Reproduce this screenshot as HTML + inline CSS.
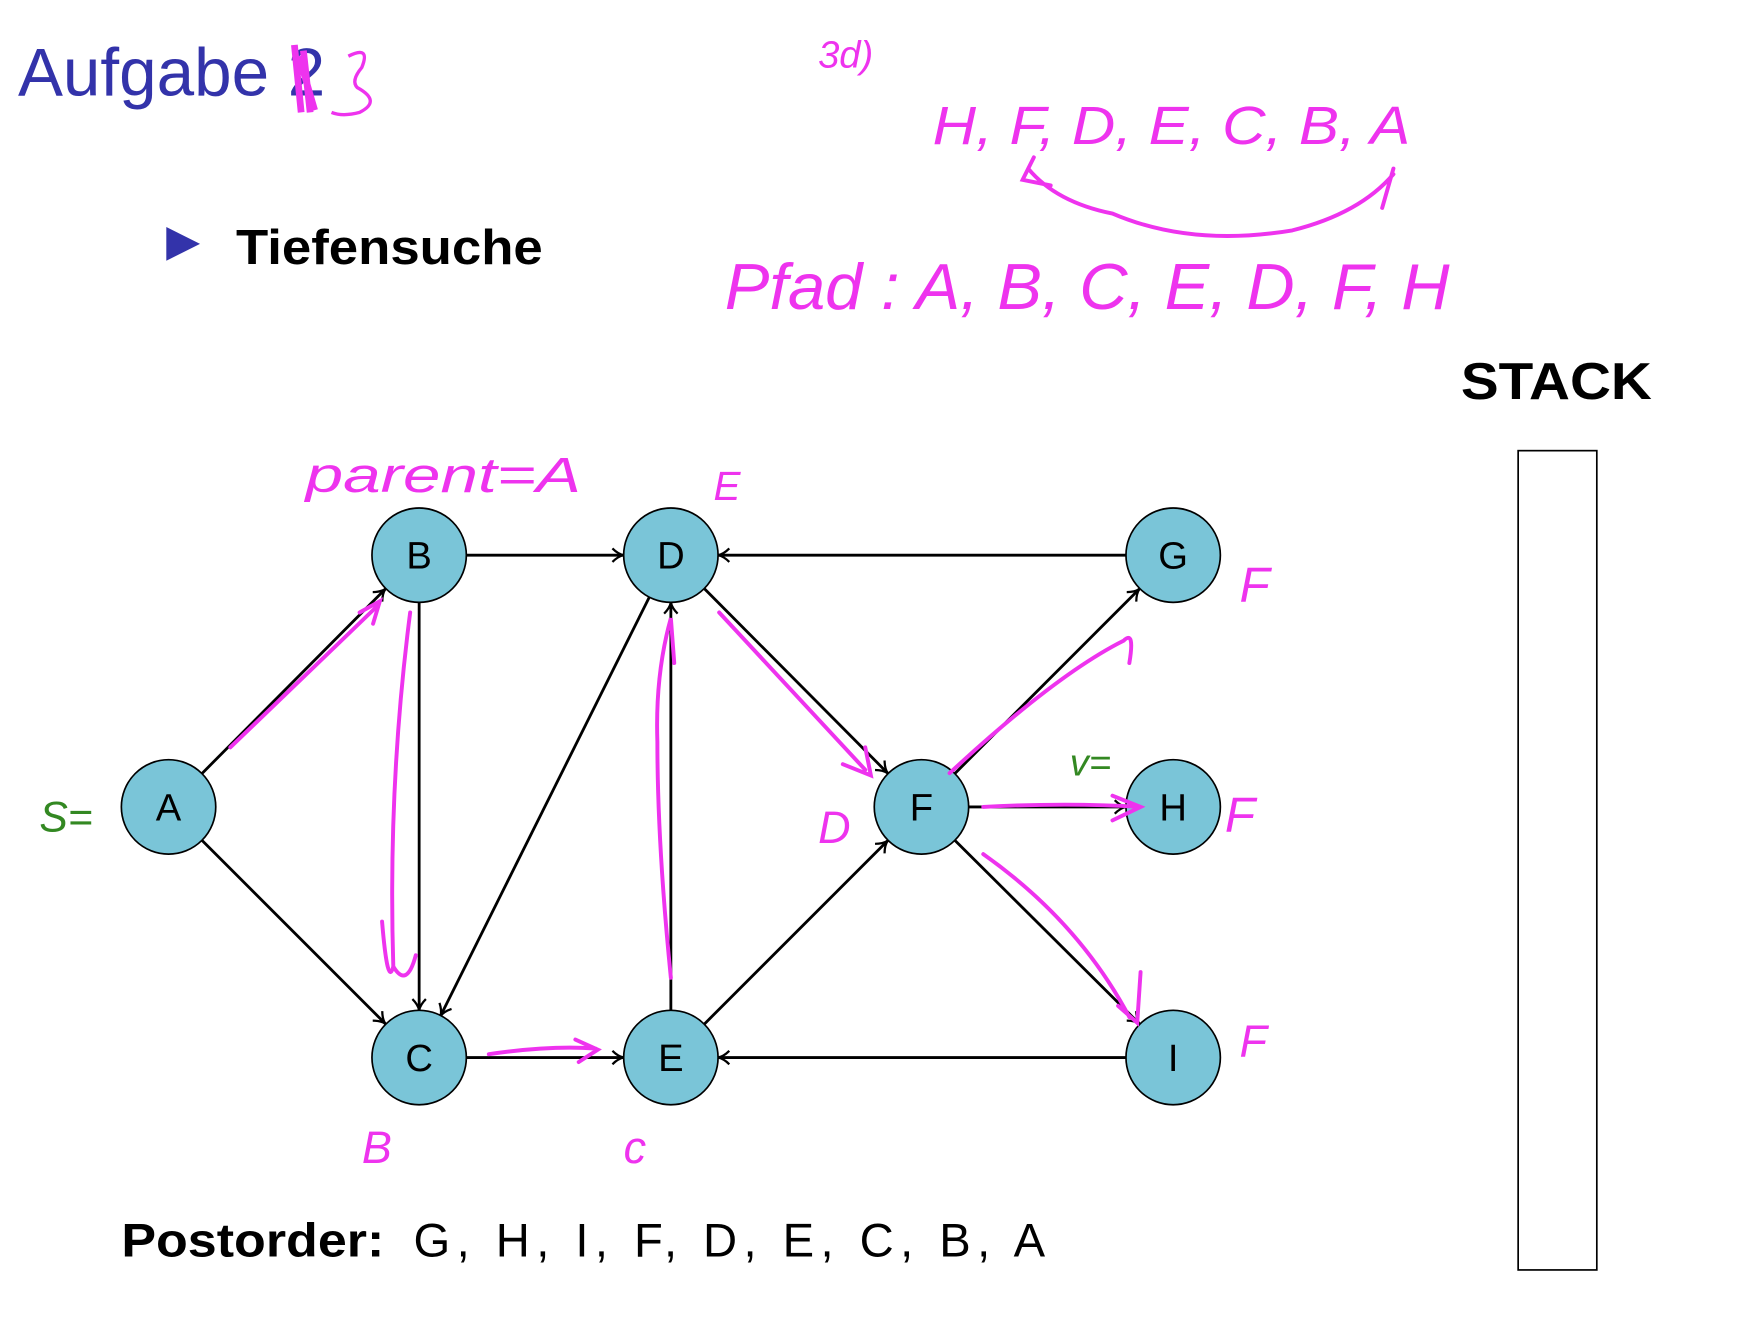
<!DOCTYPE html>
<html><head><meta charset="utf-8"><style>
html,body{margin:0;padding:0;background:#fff;}
svg{display:block;}
</style></head><body>
<svg width="1762" height="1334" viewBox="0 0 1568 1187" preserveAspectRatio="none" xmlns="http://www.w3.org/2000/svg">
<defs>
<marker id="ar" markerWidth="14" markerHeight="14" refX="12" refY="7" orient="auto" markerUnits="userSpaceOnUse">
<path d="M2,1 Q7,6 12,7 Q7,8 2,13" fill="none" stroke="#000" stroke-width="2"/>
</marker>
</defs>
<text x="16" y="85" font-family="Liberation Sans, sans-serif" font-size="60" fill="#3333aa">Aufgabe 2</text>
<path d="M262,40 L268,100 M270,45 L276,100 M266,50 L280,98" stroke="#ee33ee" stroke-width="6" fill="none"/>
<path d="M310,50 Q330,40 322,60 Q312,72 318,78 Q340,90 320,100 Q305,104 295,100" stroke="#ee33ee" stroke-width="3" fill="none"/>
<polygon points="148,202 148,232 178,217" fill="#3333aa"/>
<text x="210" y="235" font-family="Liberation Sans, sans-serif" font-size="44" font-weight="bold" textLength="273" lengthAdjust="spacingAndGlyphs">Tiefensuche</text>
<text x="1300" y="355" font-family="Liberation Sans, sans-serif" font-size="46" font-weight="bold" textLength="170" lengthAdjust="spacingAndGlyphs">STACK</text>
<rect x="1351" y="401" width="70" height="729" fill="none" stroke="#000" stroke-width="1.5"/>

<g stroke="#000" stroke-width="2.5" fill="none" marker-end="url(#ar)">
<line x1="180" y1="688" x2="343" y2="524"/>
<line x1="180" y1="748" x2="343" y2="911"/>
<line x1="415" y1="494" x2="555" y2="494"/>
<line x1="373" y1="536" x2="373" y2="899"/>
<line x1="578" y1="531" x2="392" y2="904"/>
<line x1="597" y1="899" x2="597" y2="536"/>
<line x1="1002" y1="494" x2="639" y2="494"/>
<line x1="627" y1="524" x2="790" y2="688"/>
<line x1="415" y1="941" x2="555" y2="941"/>
<line x1="627" y1="911" x2="790" y2="748"/>
<line x1="1002" y1="941" x2="639" y2="941"/>
<line x1="850" y1="688" x2="1014" y2="524"/>
<line x1="862" y1="718" x2="1002" y2="718"/>
<line x1="850" y1="748" x2="1014" y2="911"/>
</g>
<g fill="#7ac5d8" stroke="#000" stroke-width="1.5">
<circle cx="150" cy="718" r="42"/><circle cx="373" cy="494" r="42"/><circle cx="373" cy="941" r="42"/>
<circle cx="597" cy="494" r="42"/><circle cx="597" cy="941" r="42"/><circle cx="820" cy="718" r="42"/>
<circle cx="1044" cy="494" r="42"/><circle cx="1044" cy="718" r="42"/><circle cx="1044" cy="941" r="42"/>
</g>
<g font-family="Liberation Sans, sans-serif" font-size="34" text-anchor="middle" fill="#000">
<text x="150" y="730">A</text><text x="373" y="506">B</text><text x="373" y="953">C</text>
<text x="597" y="506">D</text><text x="597" y="953">E</text><text x="820" y="730">F</text>
<text x="1044" y="506">G</text><text x="1044" y="730">H</text><text x="1044" y="953">I</text>
</g>

<text x="108" y="1118" font-family="Liberation Sans, sans-serif" font-size="42" font-weight="bold" textLength="234" lengthAdjust="spacingAndGlyphs">Postorder:</text>
<text x="368" y="1118" font-family="Liberation Sans, sans-serif" font-size="42" textLength="562" lengthAdjust="spacing">G, H, I, F, D, E, C, B, A</text>

<g stroke="#ee33ee" stroke-width="3.5" fill="none" stroke-linecap="round">
<path d="M205,665 L335,540 M320,545 L338,535 L332,555"/>
<path d="M365,545 Q345,700 350,860 Q345,880 340,820 M350,860 Q362,880 370,850"/>
<path d="M435,938 Q490,930 530,933 M512,925 L532,934 L515,945"/>
<path d="M597,870 Q585,750 585,660 Q583,600 597,550 L600,590"/>
<path d="M640,545 L770,685 M750,680 L775,690 L770,665"/>
<path d="M845,688 Q940,600 1000,570 Q1010,560 1005,590"/>
<path d="M875,718 Q950,714 1015,718 M990,708 L1015,718 L990,730"/>
<path d="M875,760 Q960,820 1005,905 M1015,865 L1012,910 L995,895"/>
<path d="M915,150 Q940,180 990,190 Q1060,220 1150,205 Q1210,190 1240,155 M920,140 L910,160 L935,165 M1240,150 L1230,185"/>
</g>
<g fill="#ee33ee" font-family="Liberation Sans, sans-serif" font-style="italic">
<text x="728" y="60" font-size="34">3d)</text>
<text x="830" y="128" font-size="48" textLength="425" lengthAdjust="spacingAndGlyphs">H, F, D, E, C, B, A</text>
<text x="645" y="275" font-size="58" textLength="645" lengthAdjust="spacingAndGlyphs">Pfad : A, B, C, E, D, F, H</text>
<text x="272" y="438" font-size="44" textLength="245" lengthAdjust="spacingAndGlyphs">parent=A</text>
<text x="635" y="445" font-size="36">E</text>
<text x="1103" y="535" font-size="44">F</text>
<text x="1090" y="740" font-size="44">F</text>
<text x="1103" y="940" font-size="40">F</text>
<text x="728" y="750" font-size="40">D</text>
<text x="322" y="1035" font-size="40">B</text>
<text x="555" y="1035" font-size="40">c</text>
</g>
<g fill="#338822" font-family="Liberation Sans, sans-serif" font-style="italic">
<text x="35" y="740" font-size="38">S=</text>
<text x="952" y="690" font-size="34">v=</text>
</g>
</svg>
</body></html>
